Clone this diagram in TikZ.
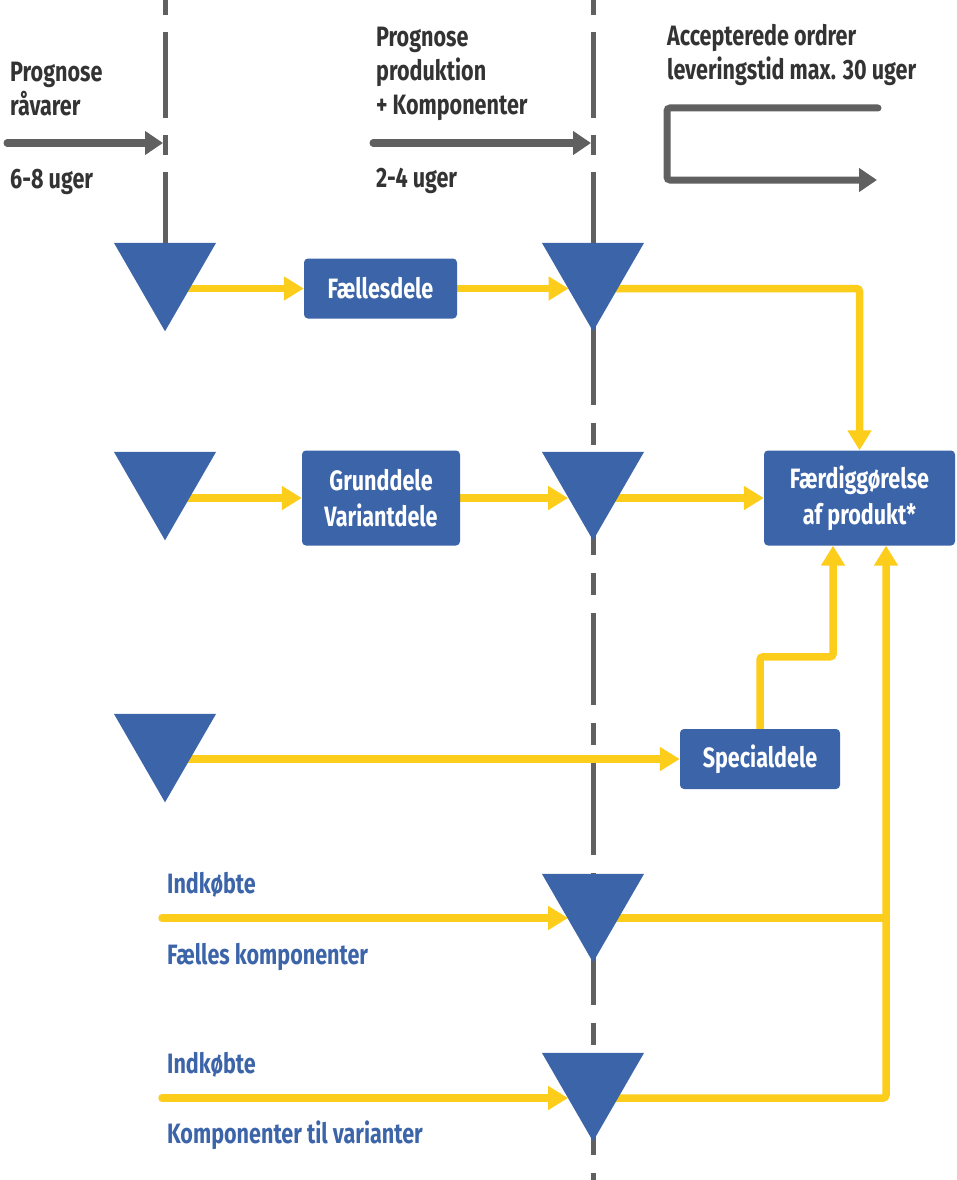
\documentclass[tikz,border=0pt]{standalone}
\usepackage{fontspec}
\setmainfont{Fira Sans}[FakeStretch=0.77]
\usetikzlibrary{arrows.meta,shapes.geometric,backgrounds,calc}
\definecolor{dblue}{HTML}{3C64A9}
\definecolor{dyel}{HTML}{FCCD1B}
\definecolor{dgray}{HTML}{606060}
\definecolor{dtext}{HTML}{333333}
\begin{document}
\begin{tikzpicture}[x=1pt,y=-1pt,
 tri/.style={regular polygon, regular polygon sides=3, shape border rotate=180, minimum size=117.8pt, inner sep=0pt, outer sep=0pt, fill=dblue},
 box/.style={fill=dblue, rounded corners=4pt, text=white, font=\bfseries\fontsize{28}{36}\selectfont, align=center, inner sep=0pt},
 lbl/.style={text=dtext, font=\bfseries\fontsize{28}{34}\selectfont, align=left, inner sep=0pt, anchor=base west},
 blbl/.style={text=dblue, font=\bfseries\fontsize{28}{34}\selectfont, inner sep=0pt, anchor=base west},
 yline/.style={draw=dyel, line width=7.5pt, rounded corners=3pt},
 yarrow/.style={yline, -{Triangle[length=20pt,width=23pt]}},
 garrow/.style={draw=dgray, line width=7pt, line cap=round, rounded corners=3pt, -{Triangle[length=18pt,width=23pt]}},
 gdash/.style={draw=dgray, line width=5pt}
]
\useasboundingbox (0,0) rectangle (957,1180);
% triangles
\node[tri] (T1l) at (165,272.4) {};
\node[tri] (T1m) at (593,272.4) {};
\node[tri] (T2l) at (165,481.4) {};
\node[tri] (T2m) at (593,481.4) {};
\node[tri] (T3l) at (165,743.4) {};
\node[tri] (T4m) at (593,903.4) {};
\node[tri] (T5m) at (593,1082.4) {};
% boxes
\node[box, minimum width=153pt, minimum height=60pt] (fd) at (380.5,288.5) {Fællesdele};
\node[box, minimum width=158pt, minimum height=95pt] (gv) at (381,498) {Grunddele\\Variantdele};
\node[box, minimum width=191pt, minimum height=95pt] (fp) at (859.5,498) {Færdiggørelse\\af produkt*};
\node[box, minimum width=160pt, minimum height=60pt] (sp) at (760,759) {Specialdele};
% labels (base = baseline of last line)
\node[lbl] (l1) at (10,116) {Prognose\\råvarer};
\node[lbl] (l2) at (10,188) {6-8 uger};
\node[lbl] (l3) at (376,115) {Prognose\\produktion\\+ Komponenter};
\node[lbl] (l4) at (376,187) {2-4 uger};
\node[lbl] (l5) at (667,80) {Accepterede ordrer\\leveringstid max. 30 uger};
\node[blbl] (b1) at (167,893) {Indkøbte};
\node[blbl] (b2) at (167,964) {Fælles komponenter};
\node[blbl] (b3) at (167,1073) {Indkøbte};
\node[blbl] (b4) at (167,1143) {Komponenter til varianter};
% free ends
\coordinate (g1s) at (7,143);
\coordinate (g1e) at (163,143);
\coordinate (g2s) at (373,143);
\coordinate (g2e) at (591,143);
\coordinate (br1) at (878,108);
\coordinate (br2) at (877,180);
\coordinate (i4) at (162,918);
\coordinate (i5) at (162,1098);
\coordinate (jx) at ([xshift=26.5pt]fp.south);
\begin{pgfonlayer}{background}
% dashed time lines
\draw[gdash, dash pattern=on 20pt off 17pt on 86pt off 17pt] (165,-5) -- (T1l.north);
\draw[gdash, dash pattern=on 20pt off 17pt on 86pt off 17pt] (593,-5) -- (T1m.north);
\draw[gdash, dash pattern=on 92pt off 18pt on 22pt off 18pt] (593,313) -- (593,1200);
% gray arrows
\draw[garrow] (g1s) -- (g1e);
\draw[garrow] (g2s) -- (g2e);
\draw[garrow] (br1) -- ++(-211,0) |- (br2);
% yellow flow
\draw[yarrow] (fd.west -| T1l.center) -- (fd.west);
\draw[yarrow, shorten >=24.5pt] (fd.east) -- (fd.east -| T1m.center);
\draw[yarrow] (fd.east -| T1m.center) -| (fp.north);
\draw[yarrow] (gv.west -| T2l.center) -- (gv.west);
\draw[yarrow, shorten >=25pt] (gv.east) -- (gv.east -| T2m.center);
\draw[yarrow] (gv.east -| T2m.center) -- (fp.west);
\draw[yarrow] (sp.west -| T3l.center) -- (sp.west);
\draw[yarrow] (sp.north) -- ++(0,-72) -| ([xshift=-26.5pt]fp.south);
\draw[yarrow, line cap=round, shorten >=25pt] (i4) -- (i4 -| T4m.center);
\draw[yline] (i4 -| T4m.center) -- (i4 -| jx);
\draw[yarrow, line cap=round, shorten >=25pt] (i5) -- (i5 -| T5m.center);
\draw[yarrow] (i5 -| T5m.center) -| (jx);
\end{pgfonlayer}
\end{tikzpicture}
\end{document}
